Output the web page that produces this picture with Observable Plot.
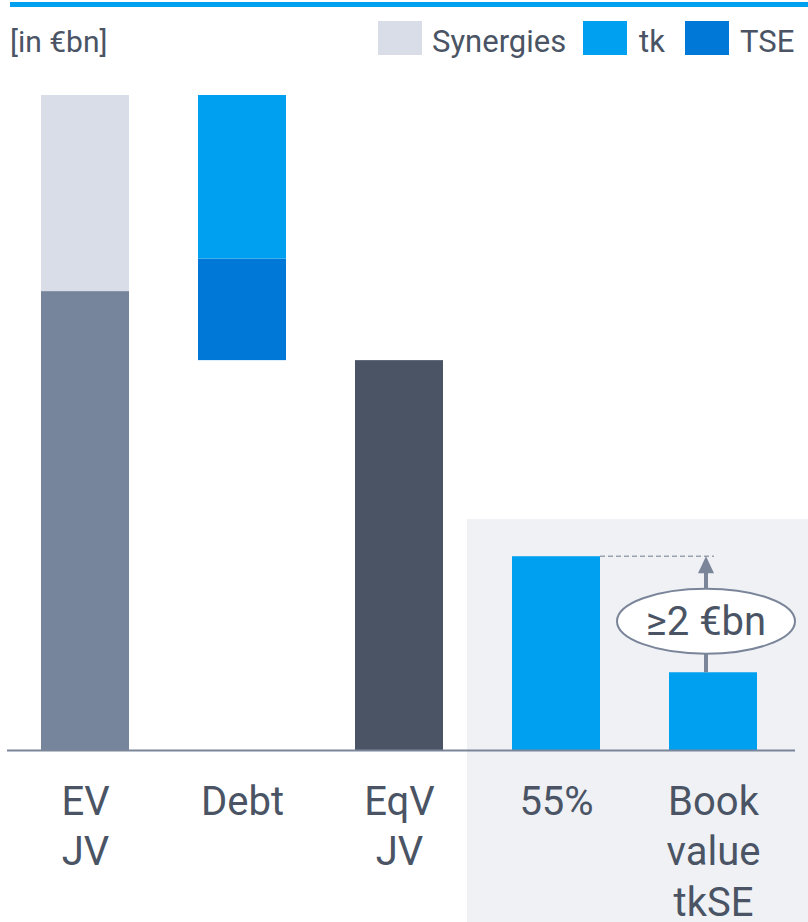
<!DOCTYPE html>
<html>
<head>
<meta charset="utf-8">
<script src="https://cdn.jsdelivr.net/npm/d3@7"></script>
<script src="https://cdn.jsdelivr.net/npm/@observablehq/plot@0.6"></script>
<style>
  html, body { margin: 0; padding: 0; background: #fff; }
  body { width: 808px; height: 922px; overflow: hidden; font-family: Roboto, "Noto Sans", sans-serif; color: #4a5464; }
  #header { position: relative; height: 80px; }
  #topline { position: absolute; left: 10px; right: 0; top: 2px; height: 5px; background: #00a0f0; }
  .t { position: absolute; top: 27px; line-height: 30px; font-size: 31px; white-space: nowrap; }
  .sw { position: absolute; top: 21px; width: 44px; height: 34px; }
</style>
</head>
<body>
<div id="header">
  <div id="topline"></div>
  <div class="t" style="left:10px;font-size:30px;">[in €bn]</div>
  <div class="sw" style="left:378px;background:#d9dde8"></div>
  <div class="t" style="left:432px;">Synergies</div>
  <div class="sw" style="left:583px;background:#00a0f0"></div>
  <div class="t" style="left:639px;">tk</div>
  <div class="sw" style="left:685px;background:#0078d7"></div>
  <div class="t" style="left:740px;">TSE</div>
</div>
<div id="chart"></div>
<script>
// ---- data (values in €bn) ----
const categories = ["EV JV", "Debt", "EqV JV", "55%", "Book value"];
const tickLabels = ["EV\nJV", "Debt", "EqV\nJV", "55%", "Book\nvalue\ntkSE"];
const evJV = 7.91;        // EV JV without synergies
const synergies = 3.38;   // synergies on top
const debtTSE = 1.75;     // debt part TSE
const debtTk = 2.82;      // debt part tk
const eqvJV = 6.72;       // equity value JV
const share55 = 3.34;     // 55% share
const bookValue = 1.34;   // book value tkSE
const gapLabel = "≥2 €bn";
const panelCats = ["55%", "Book value"];
const panelTop = 3.98;

const colors = {EV: "#76859b", Synergies: "#d9dde8", tk: "#00a0f0", TSE: "#0078d7", EqV: "#4a5464"};

// build segments table
const segments = [
  {cat: "EV JV", kind: "EV", y1: 0, y2: evJV},
  {cat: "EV JV", kind: "Synergies", y1: evJV, y2: evJV + synergies},
  {cat: "Debt", kind: "TSE", y1: eqvJV, y2: eqvJV + debtTSE},
  {cat: "Debt", kind: "tk", y1: eqvJV + debtTSE, y2: eqvJV + debtTSE + debtTk},
  {cat: "EqV JV", kind: "EqV", y1: 0, y2: eqvJV},
  {cat: "55%", kind: "tk", y1: 0, y2: share55},
  {cat: "Book value", kind: "tk", y1: 0, y2: bookValue}
];
const labels = categories.map((c, i) => ({cat: c, label: tickLabels[i]}));
const totalEV = evJV + synergies;

const W = 808, H = 842;
const svgNS = "http://www.w3.org/2000/svg";
function el(name, attrs) {
  const e = document.createElementNS(svgNS, name);
  for (const k in attrs) e.setAttribute(k, attrs[k]);
  return e;
}
function bwOf(x) { return typeof x.bandwidth === "function" ? x.bandwidth() : (x.bandwidth || 0); }

// background panel behind the last two categories
function panel(index, scales, values, dims) {
  const x = scales.x, y = scales.y;
  const x0 = x(panelCats[0]) - 45;
  const g = el("g", {});
  g.appendChild(el("rect", {x: x0, y: y(panelTop), width: dims.width - x0, height: dims.height - y(panelTop), fill: "#eff1f5"}));
  return g;
}

// annotation: dashed line, arrow, ellipse label
function annotation(index, scales, values, dims) {
  const x = scales.x, y = scales.y, bw = bwOf(x);
  const xa = x("Book value") + bw / 2 - 7;
  const xs = x("55%") + bw;
  const yTop = y(share55), yBot = y(bookValue);
  const g = el("g", {});
  g.appendChild(el("line", {x1: xs, x2: xa + 8, y1: yTop, y2: yTop, stroke: "#9aa2b0", "stroke-width": 1.5, "stroke-dasharray": "5,3"}));
  g.appendChild(el("line", {x1: xa, x2: xa, y1: yBot, y2: yTop + 14, stroke: "#7a8599", "stroke-width": 4}));
  g.appendChild(el("path", {d: `M${xa},${yTop} L${xa - 8},${yTop + 17} L${xa + 8},${yTop + 17} Z`, fill: "#7a8599"}));
  const cy = y(bookValue + (share55 - bookValue) * 0.44);
  g.appendChild(el("ellipse", {cx: xa, cy: cy, rx: 89, ry: 32.5, fill: "#fff", stroke: "#7a8599", "stroke-width": 2}));
  const t = el("text", {x: xa, y: cy, "text-anchor": "middle", "dominant-baseline": "central", "font-size": 40, fill: "#4a5464", "font-family": "Roboto, sans-serif"});
  t.textContent = gapLabel;
  g.appendChild(t);
  return g;
}

const chart = Plot.plot({
  width: W,
  height: H,
  marginLeft: 7,
  marginRight: 13,
  marginTop: 0,
  marginBottom: 0,
  style: {fontFamily: "Roboto, sans-serif", background: "transparent", overflow: "visible"},
  x: {type: "band", domain: categories, range: [6.5, 791.5], paddingInner: 0.44, paddingOuter: 0.22, axis: null},
  y: {domain: [0, totalEV], range: [670, 15], axis: null},
  marks: [
    panel,
    Plot.barY(segments, {x: "cat", y1: "y1", y2: "y2", fill: d => colors[d.kind]}),
    Plot.ruleY([0], {stroke: "#7a8599", strokeWidth: 2}),
    annotation,
    Plot.text(labels, {x: "cat", y: () => 0, text: "label", dy: 28, lineAnchor: "top", lineHeight: 1.27, fontSize: 40, fill: "#4a5464"})
  ]
});
document.getElementById("chart").appendChild(chart);
</script>
</body>
</html>
